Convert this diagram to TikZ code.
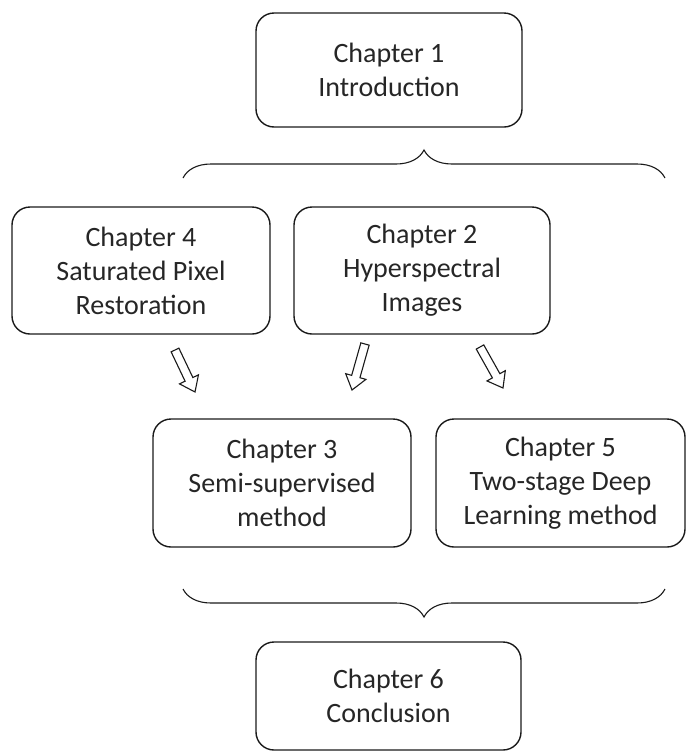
\documentclass[tikz,border=0pt]{standalone}
\usepackage{fontspec}
\setmainfont{Carlito}
\usetikzlibrary{calc,decorations.pathreplacing}
\definecolor{txt}{HTML}{262626}
\definecolor{ln}{HTML}{1A1A1A}
\newcommand\chapfont{\fontsize{28}{34}\selectfont}
\newcommand\hollowarr[2]{%
  \coordinate (#1h) at ($(#2)!14pt!(#1)$);
  \draw[blockarr] ($(#1)!4.3pt!90:(#2)$) -- ($(#1h)!4.3pt!-90:(#1)$)
    -- ($(#1h)!10.5pt!-90:(#1)$) -- (#2) -- ($(#1h)!10.5pt!90:(#1)$)
    -- ($(#1h)!4.3pt!90:(#1)$) -- ($(#1)!4.3pt!-90:(#2)$) -- cycle;}
\begin{document}
\begin{tikzpicture}[x=1pt,y=-1pt,
  chap/.style={draw=ln, rounded corners=18pt, line width=1.4pt, align=center,
    font=\chapfont, text=txt, inner sep=0pt},
  bracestyle/.style={draw=ln, line width=1.1pt,
    decorate, decoration={brace, amplitude=28pt}},
  blockarr/.style={draw=ln, line width=1.1pt, line join=miter, fill=white}]
\useasboundingbox (0,0) rectangle (689,753);
\node[chap, minimum width=266pt, minimum height=114pt] (c1) at (389,70) {Chapter 1\\Introduction};
\node[chap, minimum width=258pt, minimum height=127pt] (c4) at (141,270.5) {Chapter 4\\Saturated Pixel\\Restoration};
\node[chap, minimum width=256pt, minimum height=127pt] (c2) at (422,270.5) {Chapter 2\\Hyperspectral\\Images};
\node[chap, minimum width=258pt, minimum height=128pt] (c3) at (282,483) {Chapter 3\\Semi-supervised\\method};
\node[chap, minimum width=249pt, minimum height=128pt] (c5) at (560.5,483) {Chapter 5\\Two-stage Deep\\Learning method};
\node[chap, minimum width=265pt, minimum height=108pt] (c6) at (388.5,696) {Chapter 6\\Conclusion};
% braces
\coordinate (tbl) at (183,178);
\coordinate (tbr) at (665,178);
\coordinate (bbl) at (183,589);
\coordinate (bbr) at (665,589);
\path[bracestyle] (tbl) -- (tbr);
\path[bracestyle] (bbr) -- (bbl);
% hollow arrows
\coordinate (a1) at (175,350);
\coordinate (a1e) at (195,392);
\coordinate (a2) at (365,344);
\coordinate (a2e) at (352,390);
\coordinate (a3) at (480,347);
\coordinate (a3e) at (503,388);
\hollowarr{a1}{a1e}
\hollowarr{a2}{a2e}
\hollowarr{a3}{a3e}
\end{tikzpicture}
\end{document}
